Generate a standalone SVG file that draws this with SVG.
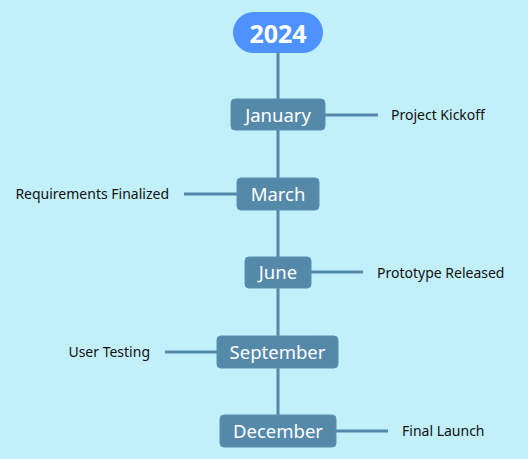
<svg xmlns="http://www.w3.org/2000/svg" width="528" height="459" viewBox="0 0 528 459">
<style>
.bg{fill:#C1F0FB}
.line{stroke:#5289AA;stroke-width:3;fill:none}
.box{fill:#5589AA;stroke:#5A8FB0;stroke-width:1}
.mt{font-family:"Noto Sans","Open Sans",sans-serif;font-size:18.5px;font-weight:normal;fill:#FFFFFF;text-anchor:middle;dominant-baseline:central}
.lbl{font-family:"Noto Sans","Open Sans",sans-serif;font-size:14px;fill:#111111;dominant-baseline:central}
.yr{font-family:"Noto Sans","Open Sans",sans-serif;font-size:25px;font-weight:bold;fill:#FFFFFF;text-anchor:middle;dominant-baseline:central}
</style>
<rect class="bg" x="0" y="0" width="528" height="459"/>
<g id="connectors">
<line class="line" x1="278" y1="53" x2="278" y2="415"/>
<line class="line" x1="325" y1="115" x2="378" y2="115"/>
<line class="line" x1="184" y1="194" x2="237" y2="194"/>
<line class="line" x1="311" y1="272" x2="363" y2="272"/>
<line class="line" x1="165" y1="352" x2="217" y2="352"/>
<line class="line" x1="336" y1="431" x2="388" y2="431"/>
</g>
<g id="year">
<rect x="233" y="12" width="90" height="41" rx="20.5" fill="#4D92FE"/>
<text class="yr" x="278" y="32.5">2024</text>
</g>
<g id="january">
<rect class="box" x="231" y="99" width="94" height="31" rx="4"/>
<text class="mt" x="278" y="114">January</text>
</g>
<g id="march">
<rect class="box" x="237" y="178" width="82" height="32" rx="4"/>
<text class="mt" x="278" y="193">March</text>
</g>
<g id="june">
<rect class="box" x="245" y="257" width="66" height="31" rx="4"/>
<text class="mt" x="278" y="271">June</text>
</g>
<g id="september">
<rect class="box" x="217" y="336" width="121" height="32" rx="4"/>
<text class="mt" x="277.5" y="351">September</text>
</g>
<g id="december">
<rect class="box" x="220" y="415" width="116" height="32" rx="4"/>
<text class="mt" x="278" y="430">December</text>
</g>
<g id="label-kickoff"><text class="lbl" x="391" y="114">Project Kickoff</text></g>
<g id="label-requirements"><text class="lbl" x="169" y="193" text-anchor="end">Requirements Finalized</text></g>
<g id="label-prototype"><text class="lbl" x="377" y="272">Prototype Released</text></g>
<g id="label-testing"><text class="lbl" x="150" y="351" text-anchor="end">User Testing</text></g>
<g id="label-launch"><text class="lbl" x="402" y="430">Final Launch</text></g>
</svg>
